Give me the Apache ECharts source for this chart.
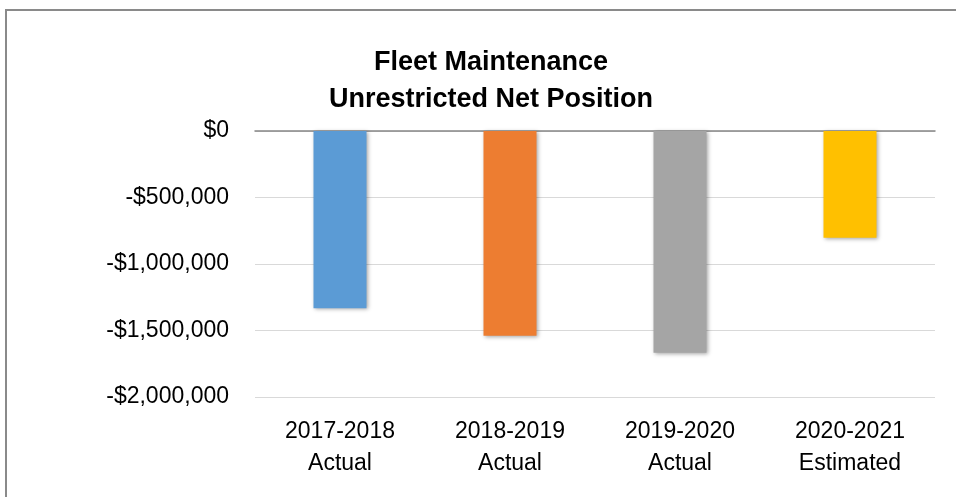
<!DOCTYPE html>
<html>
<head>
<meta charset="utf-8">
<title>Fleet Maintenance</title>
<script src="https://cdn.jsdelivr.net/npm/echarts@6/dist/echarts.min.js"></script>
<style>
  html, body { margin: 0; padding: 0; background: #fff; }
  #chart { width: 956px; height: 497px; }
</style>
</head>
<body>
<div id="chart"></div>
<script>
// fiscal years and unrestricted net position
const years = ['2017-2018', '2018-2019', '2019-2020', '2020-2021'];
const kinds = ['Actual', 'Actual', 'Actual', 'Estimated'];
const netPosition = [-1333000, -1540000, -1667000, -802000];
const barColors = ['#5B9BD5', '#ED7D31', '#A5A5A5', '#FFC000'];

const FONT = "'Liberation Sans', Arial, sans-serif";

const categories = years.map((y, i) => y + '\n' + kinds[i]);

const money = v => {
  const s = Math.abs(v).toLocaleString('en-US');
  return (v < 0 ? '-$' : '$') + s;
};

let chart = echarts.init(document.getElementById('chart'));
chart.setOption({
  animation: false,
  title: {
    text: 'Fleet Maintenance\nUnrestricted Net Position',
    left: 491,
    top: 44,
    padding: 0,
    textAlign: 'center',
    textStyle: {
      fontFamily: FONT,
      fontSize: 27,
      fontWeight: 'bold',
      color: '#000',
      lineHeight: 37,
    }
  },
  graphic: [{
    type: 'rect',
    shape: { x: 6, y: 10, width: 1000, height: 600 },
    style: { fill: null, stroke: '#8a8a8a', lineWidth: 2 },
    silent: true,
  }],
  grid: { left: 255, right: 21, top: 131, bottom: 100 },
  xAxis: [{
    type: 'category',
    data: categories,
    position: 'bottom',
    axisLine: { show: false },
    axisTick: { show: false },
    axisLabel: {
      fontFamily: FONT,
      fontSize: 23,
      color: '#000',
      lineHeight: 32,
      margin: 19,
    }
  }, {
    // zero line along the top of the plot
    type: 'category',
    data: categories,
    position: 'top',
    axisLine: { show: true, onZero: false, lineStyle: { color: '#868686', width: 1.5 } },
    axisTick: { show: false },
    axisLabel: { show: false },
  }],
  yAxis: {
    type: 'value',
    min: -2000000,
    max: 0,
    interval: 500000,
    axisLine: { show: false },
    axisTick: { show: false },
    splitLine: { lineStyle: { color: '#d9d9d9', width: 1 } },
    axisLabel: {
      fontFamily: FONT,
      fontSize: 23,
      color: '#000',
      margin: 26,
      formatter: money,
    }
  },
  series: [{
    type: 'bar',
    xAxisIndex: 0,
    barWidth: 53,
    data: netPosition.map((v, i) => ({
      value: v,
      itemStyle: {
        color: barColors[i],
        shadowBlur: 4,
        shadowColor: 'rgba(0,0,0,0.35)',
        shadowOffsetX: 1,
        shadowOffsetY: 1,
      }
    })),
  }]
});
</script>
</body>
</html>
